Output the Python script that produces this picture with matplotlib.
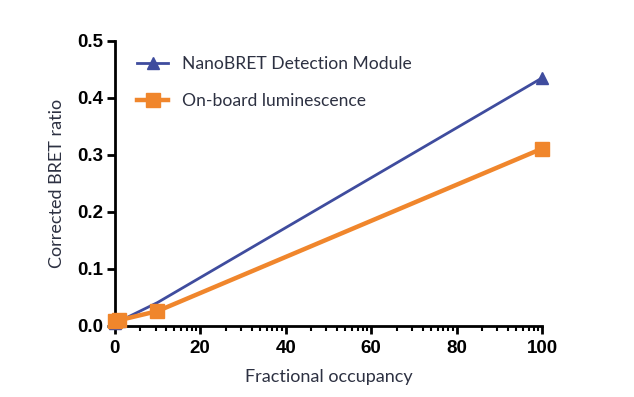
import numpy as np
import matplotlib
matplotlib.use("Agg")
import matplotlib.pyplot as plt
from matplotlib.ticker import FixedLocator, FormatStrFormatter

occupancy = [0, 1, 10, 100]
nanobret = [0.005, 0.008, 0.041, 0.435]
onboard = [0.008, 0.010, 0.026, 0.311]
x_ticks = [0, 20, 40, 60, 80, 100]
y_ticks = [0.0, 0.1, 0.2, 0.3, 0.4, 0.5]

blue = "#3f4c9e"
orange = "#f0862c"
text_col = "#2d3142"

fig = plt.figure(figsize=(6.34, 3.97), dpi=100)
ax = fig.add_axes([0.181, 0.179, 0.674, 0.718])

ax.plot(occupancy, nanobret, color=blue, lw=2.0, marker="^", ms=9,
        markevery=[0, 1, 3],
        label="NanoBRET Detection Module", clip_on=False, zorder=3)
ax.plot(occupancy, onboard, color=orange, lw=3.2, marker="s", ms=10,
        label="On-board luminescence", clip_on=False, zorder=4)

ax.set_xlim(0, 100)
ax.set_ylim(0, 0.5)
ax.set_xticks(x_ticks)
ax.set_yticks(y_ticks)
ax.yaxis.set_major_formatter(FormatStrFormatter("%.1f"))
minor = [s + 20 * np.log10(j) for s in x_ticks[:-1] for j in range(2, 10)]
ax.xaxis.set_minor_locator(FixedLocator(minor))

for sp in ["top", "right"]:
    ax.spines[sp].set_visible(False)
for sp in ["left", "bottom"]:
    ax.spines[sp].set_linewidth(2.0)
    ax.spines[sp].set_color("black")

ax.tick_params(which="major", length=6, width=2, direction="out", color="black")
ax.tick_params(which="minor", length=3.5, width=1.5, direction="out", color="black")
for lab in ax.get_xticklabels() + ax.get_yticklabels():
    lab.set_fontfamily("Liberation Sans")
    lab.set_fontweight("bold")
    lab.set_fontsize(13.5)
ax.tick_params(axis="x", pad=4)
ax.tick_params(axis="y", pad=2)

ax.set_xlabel("Fractional occupancy", fontsize=13, family="Lato", color=text_col, labelpad=9)
ax.set_ylabel("Corrected BRET ratio", fontsize=13, family="Lato", color=text_col, labelpad=9)

leg = ax.legend(loc="upper left", bbox_to_anchor=(0.023, 0.99), frameon=False,
                prop={"family": "Lato", "size": 12.6}, handlelength=1.8,
                labelspacing=1.2, handletextpad=0.8, borderaxespad=0.3)
for t in leg.get_texts():
    t.set_color(text_col)

fig.savefig("out.png", dpi=100)
